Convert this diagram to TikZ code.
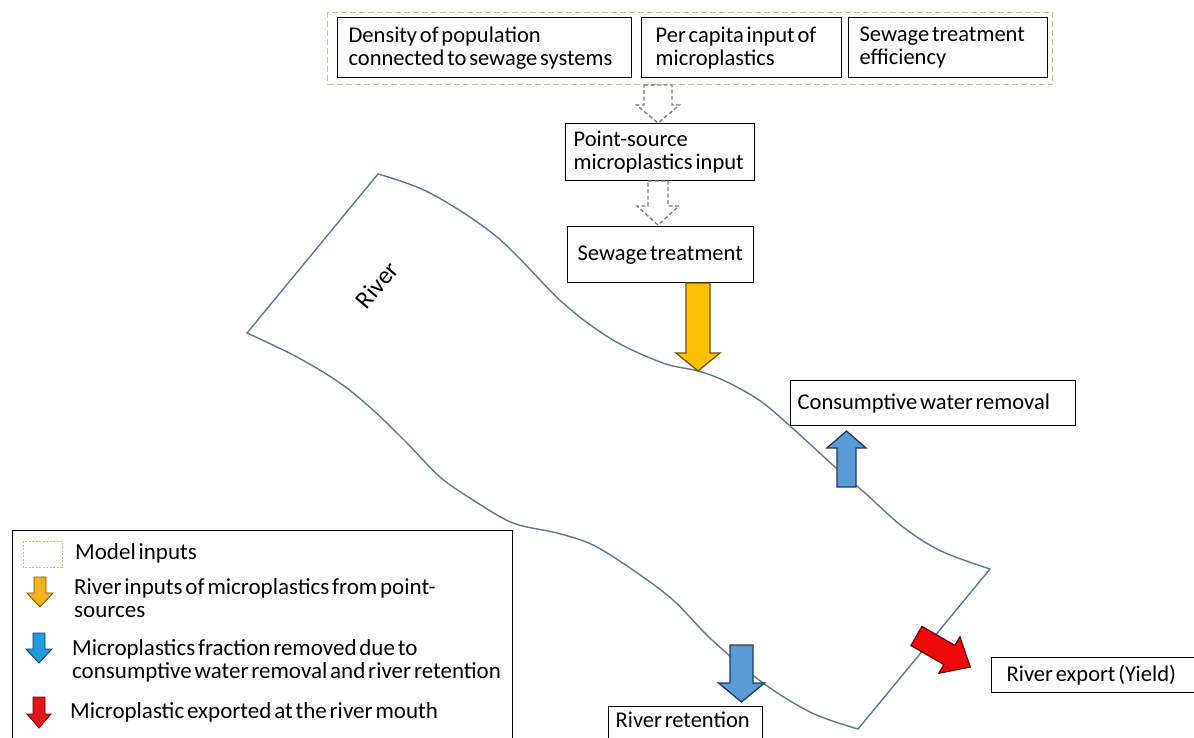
\documentclass[tikz,border=0pt]{standalone}
\usepackage{fontspec}
\setmainfont{Carlito}[WordSpace=0.55]
\definecolor{olivedash}{HTML}{C4C48A}
\definecolor{rivercol}{HTML}{607888}
\definecolor{dgray}{HTML}{7A7A7A}
\definecolor{yelA}{HTML}{FFC000}
\definecolor{yelO}{HTML}{6E5200}
\definecolor{bluA}{HTML}{5B9BD5}
\definecolor{bluO}{HTML}{1F3A60}
\definecolor{redA}{HTML}{F00A0A}
\definecolor{redO}{HTML}{700000}
\definecolor{lyel}{HTML}{F2B21C}
\definecolor{lblu}{HTML}{1F9CE0}
\definecolor{lred}{HTML}{E0161C}
\newcommand\fs{\fontsize{22.5}{23}\selectfont}
\newcommand\lfs{\fontsize{23}{22.5}\selectfont}
\newcommand\bx[1]{\mbox{\spaceskip=0pt\xspaceskip=0pt\relax #1}}
% vertical block arrow: style, cx, ytail, ybase, ytip, shaft half, head half
\newcommand\vblk[7]{\draw[#1] (#2-#6,#3) -- (#2+#6,#3) -- (#2+#6,#4) -- (#2+#7,#4) -- (#2,#5) -- (#2-#7,#4) -- (#2-#6,#4) -- cycle;}
\tikzset{
  box/.style={draw=black, line width=1.3pt, fill=white, anchor=north west, align=left, font=\fs, inner ysep=0pt},
  lbl/.style={anchor=west, align=left, font=\lfs, inner sep=0pt},
  hollow/.style={draw=dgray, dashed, line width=1.3pt, fill=white, dash pattern=on 4pt off 2.5pt},
  yelarrow/.style={draw=yelO, line width=1.3pt, fill=yelA, line join=miter},
  bluarrow/.style={draw=bluO, line width=1.3pt, fill=bluA, line join=miter},
  redarrow/.style={draw=redO, line width=1.3pt, fill=redA, line join=miter},
  riverline/.style={draw=rivercol, line width=1.4pt, line join=miter},
}
\begin{document}
\begin{tikzpicture}[x=1pt,y=-1pt]
\useasboundingbox (0,0) rectangle (1194,737);
\clip (0,0) rectangle (1194,737);
\fill[white] (0,0) rectangle (1194,737);

% river
\draw[riverline] plot[smooth, tension=0.55] coordinates {(378,174) (430,193) (497,237) (563,303) (613,340) (663,363) (698,371) (725,381) (759,400) (789,425) (835,467) (865,493) (903,527) (941,551) (990,569)}
  -- (858,729)
  -- plot[smooth, tension=0.55] coordinates {(858,729) (812,713) (763,683) (712,640) (673,600) (633,570) (593,545) (557,533) (513,523) (473,500) (440,477) (407,443) (373,410) (340,383) (297,357) (247,333)}
  -- (378,174) -- cycle;
\node[font=\fontsize{25}{26}\selectfont, rotate=50] (river) at (377,285) {River};

% model inputs group
\node[draw=olivedash, dashed, line width=1.4pt, dash pattern=on 6pt off 3pt, anchor=north west, minimum width=725pt, minimum height=72pt, inner sep=0pt] (inputs) at (327,12) {};
\node[box, text width=272pt, inner xsep=11pt, minimum height=60pt] (dens) at (337,17) {\bx{Density of population}\\\bx{connected to sewage systems}};
\node[box, text width=172pt, inner xsep=14pt, minimum height=60pt] (percap) at (641,17) {\bx{Per capita input of}\\\bx{microplastics}};
\node[box, text width=177pt, inner xsep=11pt, minimum height=60pt] (eff) at (848,17) {\bx{Sewage treatment}\\\bx{efficiency}};

% hollow dashed arrows
\vblk{hollow}{658}{85}{105}{123}{14}{21.5}
\node[box, text width=173pt, inner xsep=8pt, minimum height=57pt] (ps) at (565,123) {\bx{Point-source}\\\bx{microplastics input}};
\vblk{hollow}{658}{181}{206}{225}{10}{21}
\node[box, text width=166pt, inner xsep=10pt, minimum height=56pt] (sew) at (567,226) {\bx{Sewage treatment}};

% yellow input arrow
\vblk{yelarrow}{698}{283}{353}{371}{12}{22}

% consumptive water removal
\node[box, text width=271pt, inner xsep=7pt, minimum height=45pt] (cons) at (790,380) {\bx{Consumptive water removal}};
\vblk{bluarrow}{846.5}{487}{448}{431}{9.5}{19.5}

% river retention
\vblk{bluarrow}{741.5}{645}{683}{702}{11.5}{23}
\node[box, text width=140pt, inner xsep=7pt, inner ysep=4pt, text height=17pt, text depth=14pt] (ret) at (608,706) {\bx{River retention}};

% river export
\node[box, text width=173pt, inner xsep=15pt, minimum height=35pt] (exp) at (991,657) {\bx{River export (Yield)}};
\begin{scope}[shift={(916.5,636)}, rotate=-30]
\draw[redarrow] (0,-11) -- (38,-11) -- (38,-21) -- (62,0) -- (38,21) -- (38,11) -- (0,11) -- cycle;
\end{scope}

% legend
\node[draw=black, line width=1.3pt, anchor=north west, minimum width=500pt, minimum height=230pt, inner sep=0pt] (legend) at (12,530) {};
\draw[olivedash, dashed, line width=0.9pt, dash pattern=on 2pt off 1.5pt] (23,541) rectangle (62,567);
\node[lbl] (l1) at (75,553) {Model inputs};
\vblk{draw=yelO, fill=lyel, line width=0.8pt}{40}{577}{593}{607}{6}{13}
\node[lbl] (l2) at (74,598) {\bx{River inputs of microplastics from point-}\\\bx{sources}};
\vblk{draw=bluO, fill=lblu, line width=0.8pt}{39}{633}{649}{663}{6}{13}
\node[lbl] (l3) at (72,661) {\bx{Microplastics fraction removed due to}\\\bx{consumptive water removal and river retention}};
\vblk{draw=redO, fill=lred, line width=0.8pt}{39}{697}{714}{728}{6}{12}
\node[lbl] (l4) at (70,712) {Microplastic exported at the river mouth};
\end{tikzpicture}
\end{document}
